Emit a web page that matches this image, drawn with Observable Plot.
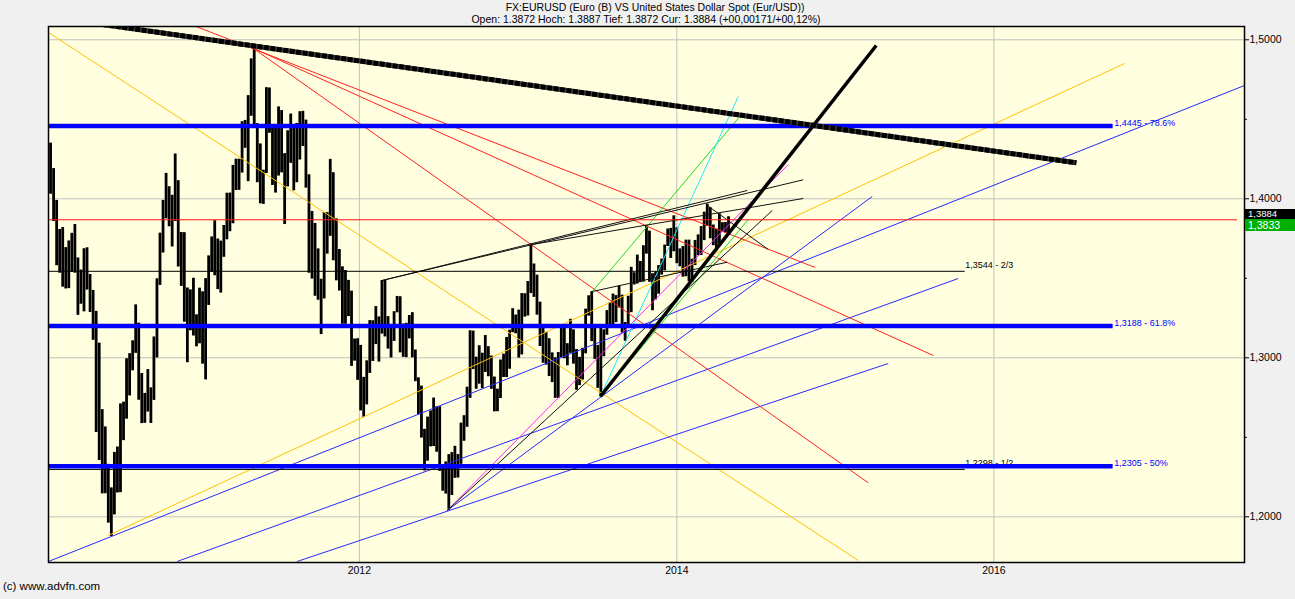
<!DOCTYPE html>
<html><head><meta charset="utf-8">
<script src="https://cdn.jsdelivr.net/npm/d3@7"></script>
<script src="https://cdn.jsdelivr.net/npm/@observablehq/plot@0.6"></script>
<style>
body{margin:0;background:#f0f0f0;font-family:"Liberation Sans",Arial,sans-serif;}
#wrap{position:relative;width:1295px;height:599px;overflow:hidden;background:#f0f0f0;}
#wrap svg{position:absolute;left:0;top:0;}
.t{position:absolute;white-space:nowrap;color:#000;line-height:12px;}
.tag{position:absolute;left:1245px;width:50px;color:#fff;padding-left:3px;box-sizing:border-box;overflow:hidden;}
</style></head><body><div id="wrap"></div>
<script>
// ---- data ----
const titleLines = ["FX:EURUSD (Euro (B) VS United States Dollar Spot (Eur/USD))",
  "Open: 1.3872 Hoch: 1.3887 Tief: 1.3872 Cur: 1.3884 (+00,00171/+00,12%)"];
const credit = "(c) www.advfn.com";

const weekStart = "2010-01-18";
const highs = [
 1.4350,1.4190,1.3990,1.3807,1.3819,1.3693,1.3735,1.3783,1.3838,1.3628,1.3552,1.3686,1.3692,1.3524,1.3424,1.3292,1.3092,1.2674,1.2565,1.2330,1.2182,1.2405,1.2439,1.2710,1.2721,1.2994,1.3026,1.3107,1.3333,1.3218,1.2901,1.2776,1.2926,1.2811,1.3131,1.3497,1.3784,1.3990,1.4160,1.4076,1.4022,1.4282,1.4114,1.3788,1.3787,1.3439,1.3427,1.3500,1.3270,1.3438,
 1.3415,1.3498,1.3641,1.3760,1.3862,1.3747,1.3734,1.3832,1.4035,1.4036,1.4210,1.4249,1.4249,1.4485,1.4493,1.4649,1.4880,1.4940,1.4473,1.4345,1.4180,1.4699,1.4697,1.4461,1.4449,1.4578,1.4555,1.4284,1.4428,1.4533,1.4450,1.4474,1.4548,1.4550,1.4495,1.4151,1.3920,1.3845,1.3685,1.3494,1.3913,1.3913,1.4248,1.4164,1.3874,1.3681,1.3572,1.3549,1.3487,1.3419,1.3118,1.3120,
 1.3078,1.2877,1.2981,1.3234,1.3233,1.3322,1.3257,1.3486,1.3487,1.3259,1.3191,1.3290,1.3386,1.3384,1.3212,1.3217,1.3266,1.3284,1.3049,1.2874,1.2822,1.2550,1.2627,1.2666,1.2747,1.2692,1.2692,1.2309,1.2345,1.2391,1.2404,1.2443,1.2392,1.2589,1.2636,1.2815,1.3170,1.3168,1.3004,1.3076,1.3029,1.3140,1.3070,1.3011,1.2879,1.2803,1.2986,1.3023,1.3128,1.3174,1.3309,1.3269,1.3300,
 1.3404,1.3403,1.3480,1.3711,1.3590,1.3520,1.3350,1.3185,1.3160,1.3120,1.3031,1.3000,1.3033,1.3203,1.3192,1.3089,1.3242,1.3176,1.3052,1.3003,1.3060,1.3306,1.3390,1.3416,1.3194,1.3078,1.3207,1.3176,1.3297,1.3346,1.3401,1.3391,1.3452,1.3394,1.3222,1.3387,1.3569,1.3535,1.3646,1.3606,1.3705,1.3833,1.3797,1.3529,1.3540,1.3580,1.3621,1.3709,1.3810,1.3814,1.3893,1.3817,
 1.3685,1.3700,1.3740,1.3740,1.3620,1.3738,1.3773,1.3825,1.3916,1.3967,1.3944,1.3835,1.3809,1.3906,1.3850,1.3851,1.3887];
const lows = [
 1.4029,1.3857,1.3579,1.3532,1.3444,1.3433,1.3435,1.3537,1.3532,1.3267,1.3337,1.3289,1.3426,1.3285,1.3110,1.2530,1.2354,1.2144,1.2145,1.1960,1.1876,1.2012,1.2150,1.2152,1.2479,1.2614,1.2760,1.2918,1.3028,1.2733,1.2586,1.2588,1.2659,1.2587,1.2732,1.2999,1.3455,1.3659,1.3874,1.3824,1.3697,1.3857,1.3571,1.3449,1.3224,1.2969,1.3170,1.3137,1.3069,1.3088,
 1.2960,1.2861,1.3329,1.3537,1.3516,1.3429,1.3407,1.3632,1.3742,1.3793,1.3843,1.4052,1.4053,1.4162,1.4318,1.4108,1.4519,1.4463,1.4101,1.3968,1.3965,1.4159,1.4412,1.4084,1.4036,1.4143,1.4163,1.3838,1.4075,1.4223,1.4050,1.4101,1.4244,1.4329,1.4067,1.3532,1.3495,1.3387,1.3362,1.3146,1.3370,1.3652,1.3764,1.3610,1.3484,1.3420,1.3211,1.3211,1.3259,1.2946,1.2979,1.2858,
 1.2666,1.2624,1.2704,1.2902,1.2977,1.3083,1.2973,1.3149,1.3131,1.3055,1.2999,1.3103,1.3283,1.3031,1.3003,1.3001,1.3119,1.3000,1.2850,1.2642,1.2495,1.2288,1.2350,1.2440,1.2442,1.2406,1.2286,1.2161,1.2143,1.2042,1.2134,1.2242,1.2244,1.2330,1.2475,1.2563,1.2745,1.2926,1.2802,1.2834,1.2806,1.2908,1.2881,1.2802,1.2660,1.2661,1.2744,1.2876,1.2876,1.2928,1.3158,1.3151,1.2998,
 1.3018,1.3256,1.3263,1.3404,1.3380,1.3268,1.3071,1.2966,1.2954,1.2882,1.2844,1.2745,1.2745,1.3000,1.2994,1.2950,1.3028,1.2960,1.2796,1.2825,1.2860,1.3025,1.3262,1.3102,1.2990,1.2808,1.2755,1.3007,1.3142,1.3188,1.3195,1.3221,1.3313,1.3155,1.3104,1.3209,1.3284,1.3458,1.3464,1.3473,1.3476,1.3652,1.3475,1.3296,1.3363,1.3400,1.3520,1.3547,1.3700,1.3625,1.3667,1.3592,
 1.3572,1.3507,1.3510,1.3478,1.3476,1.3580,1.3642,1.3643,1.3737,1.3826,1.3749,1.3705,1.3672,1.3714,1.3791,1.3785,1.3772];

const yTicks = [1.2, 1.3, 1.4, 1.5];
const yMinorTicks = [1.25, 1.35, 1.45];
const xTickYears = [2012, 2014, 2016];
const xDomainYears = [2010.0391, 2017.5782];
const yDomain = [1.17126, 1.50836];

const fibLevels = [1.4445, 1.3188, 1.2305];
const fibLabels = ["1,4445 - 78.6%", "1,3188 - 61.8%", "1,2305 - 50%"];
const fibSpan = [2010.0391, 2016.7503];
const thirdLevels = [1.3544, 1.2298];
const thirdLabels = ["1,3544 - 2/3", "1,2298 - 1/2"];
const thirdSpan = [2010.0391, 2015.8190];
const redLevels = [1.3868];
const redSpan = [2010.0391, 2017.5340];

const tagValues = [1.3884, 1.3833];
const tagLabels = ["1,3884", "1,3833"];

// trend lines [year1, value1, year2, value2]
const thickDownLines = [[2010.3020, 1.51075, 2016.5189, 1.42264]];
const thickUpLines = [[2013.5177, 1.27566, 2015.2579, 1.49642]];
const redLines = [
 [2010.9325, 1.50981, 2014.8733, 1.35679],
 [2011.3298, 1.49472, 2015.6173, 1.30145],
 [2011.3298, 1.49472, 2015.2074, 1.22138]];
const yellowLines = [
 [2010.0391, 1.50459, 2015.1444, 1.17252],
 [2010.4155, 1.18824, 2016.8216, 1.48509]];
const blueLines = [
 [2010.0391, 1.17189, 2017.5782, 1.47126],
 [2010.8506, 1.17189, 2015.7749, 1.34987],
 [2012.5530, 1.20396, 2015.2327, 1.40145],
 [2011.6072, 1.17189, 2015.3335, 1.29642]];
const greenLines = [
 [2013.4672, 1.34170, 2014.4130, 1.45365],
 [2013.5177, 1.27566, 2014.4508, 1.38698]];
const cyanLines = [[2013.5177, 1.27566, 2014.3878, 1.46434]];
const magentaLines = [[2012.5530, 1.20396, 2014.7030, 1.42157]];
const blackLines = [
 [2012.1431, 1.34862, 2014.4445, 1.40522],
 [2012.1431, 1.34862, 2014.7976, 1.41195],
 [2013.0763, 1.37107, 2014.7976, 1.40019],
 [2012.5530, 1.20396, 2014.6021, 1.39264],
 [2014.1923, 1.39579, 2014.5769, 1.36811],
 [2013.4672, 1.34170, 2014.3184, 1.36013]];

// ---- helpers ----
function dec(y){const yr=Math.floor(y);const a=Date.UTC(yr,0,1),b=Date.UTC(yr+1,0,1);return new Date(a+(y-yr)*(b-a));}
const seg = arr => arr.map(([a,b,c,d]) => ({x1:dec(a), y1:b, x2:dec(c), y2:d}));
const linkOpts = (stroke, w, extra={}) => ({x1:"x1", y1:"y1", x2:"x2", y2:"y2", stroke, strokeWidth:w, clip:true, ...extra});

const weeks = highs.map((h,i) => ({date: d3.utcDay.offset(new Date(weekStart + "T00:00:00Z"), 7*i + 2), high:h, low:lows[i]}));
const fibData = fibLevels.map((v,i) => ({v, label: fibLabels[i]}));
const thirdData = thirdLevels.map((v,i) => ({v, label: thirdLabels[i]}));
const fmt = d => d.toFixed(4).replace(".", ",");

const chart = Plot.plot({
  width: 1295, height: 599,
  marginTop: 26, marginBottom: 37, marginLeft: 48, marginRight: 51,
  style: {background: "transparent", fontFamily: "'Liberation Sans', Arial, sans-serif", fontSize: "10.5px", color: "#000", overflow: "visible"},
  x: {type: "utc", domain: xDomainYears.map(dec)},
  y: {domain: yDomain},
  marks: [
    Plot.frame({fill: "#FFFFE0"}),
    Plot.gridY(yTicks, {stroke: "#c0c0c0", strokeOpacity: 1}),
    Plot.gridX(xTickYears.map(y => new Date(Date.UTC(y,0,1))), {stroke: "#c0c0c0", strokeOpacity: 1}),
    Plot.ruleX(weeks, {x: "date", y1: "low", y2: "high", stroke: "#000", strokeWidth: 2.8}),
    Plot.link(seg(yellowLines), linkOpts("#FFC000", 1)),
    Plot.link(seg(blueLines), linkOpts("#2828FF", 1)),
    Plot.link(seg(redLines), linkOpts("#FF2020", 1)),
    Plot.link(seg(greenLines), linkOpts("#20D820", 1)),
    Plot.link(seg(cyanLines), linkOpts("#20E8FF", 1)),
    Plot.link(seg(magentaLines), linkOpts("#FF20FF", 1)),
    Plot.link(seg(blackLines), linkOpts("#111", 1)),
    Plot.ruleY(thirdLevels, {x1: dec(thirdSpan[0]), x2: dec(thirdSpan[1]), stroke: "#000", strokeWidth: 1}),
    Plot.ruleY(redLevels, {x1: dec(redSpan[0]), x2: dec(redSpan[1]), stroke: "#FF1010", strokeWidth: 1}),
    Plot.text(thirdData, {x: () => dec(thirdSpan[1]), y: "v", text: "label", textAnchor: "start", dx: 0, dy: -6, fill: "#000", fontSize: 9}),
    Plot.ruleY(fibLevels, {x1: dec(fibSpan[0]), x2: dec(fibSpan[1]), stroke: "#0000FF", strokeWidth: 4.5, dy: -2}),
    Plot.text(fibData, {x: () => dec(fibSpan[1]), y: "v", text: "label", textAnchor: "start", dx: 1, dy: -5, fill: "#0000FF", fontSize: 9}),
    Plot.link(seg(thickDownLines), linkOpts("#3a3a3a", 5)),
    Plot.link(seg(thickDownLines), linkOpts("#000", 5, {strokeDasharray: "5 1.5"})),
    Plot.link(seg(thickUpLines), linkOpts("#000", 3.5)),
    Plot.frame({stroke: "#000", strokeWidth: 1.5}),
    Plot.axisY({anchor: "right", ticks: yTicks, tickFormat: fmt, tickSize: 4, tickPadding: 1, label: null}),
    Plot.axisY({anchor: "right", ticks: yMinorTicks, tickFormat: () => "", tickSize: 2, label: null}),
    Plot.axisX({ticks: xTickYears.map(y => new Date(Date.UTC(y,0,1))), tickFormat: "%Y", tickSize: 0, tickPadding: 4, label: null})
  ]
});

const wrap = document.getElementById("wrap");
wrap.appendChild(chart);

const ys = chart.scale("y");
const tagColors = ["#000", "#00B000"];
const tagShift = [-7.5, -5.6];
const tagHeights = [10, 12];
tagValues.forEach((v,i) => {
  const d = document.createElement("div");
  d.className = "tag";
  d.style.top = (ys.apply(v) + tagShift[i]) + "px";
  d.style.height = tagHeights[i] + "px";
  d.style.lineHeight = tagHeights[i] + "px";
  d.style.fontSize = i === 0 ? "9.5px" : "10.5px";
  d.style.background = tagColors[i];
  d.textContent = tagLabels[i];
  wrap.appendChild(d);
});

const centers = [655, 646];
const tops = [1, 12.5];
titleLines.forEach((s,i) => {
  const d = document.createElement("div");
  d.className = "t";
  d.style.left = (centers[i] - 400) + "px";
  d.style.width = "800px";
  d.style.textAlign = "center";
  d.style.top = tops[i] + "px";
  d.style.fontSize = "10.5px";
  d.textContent = s;
  wrap.appendChild(d);
});
const c = document.createElement("div");
c.className = "t";
c.style.left = "3px"; c.style.top = "580px"; c.style.fontSize = "11.5px"; c.style.lineHeight = "13px";
c.textContent = credit;
wrap.appendChild(c);
</script>
</body></html>
